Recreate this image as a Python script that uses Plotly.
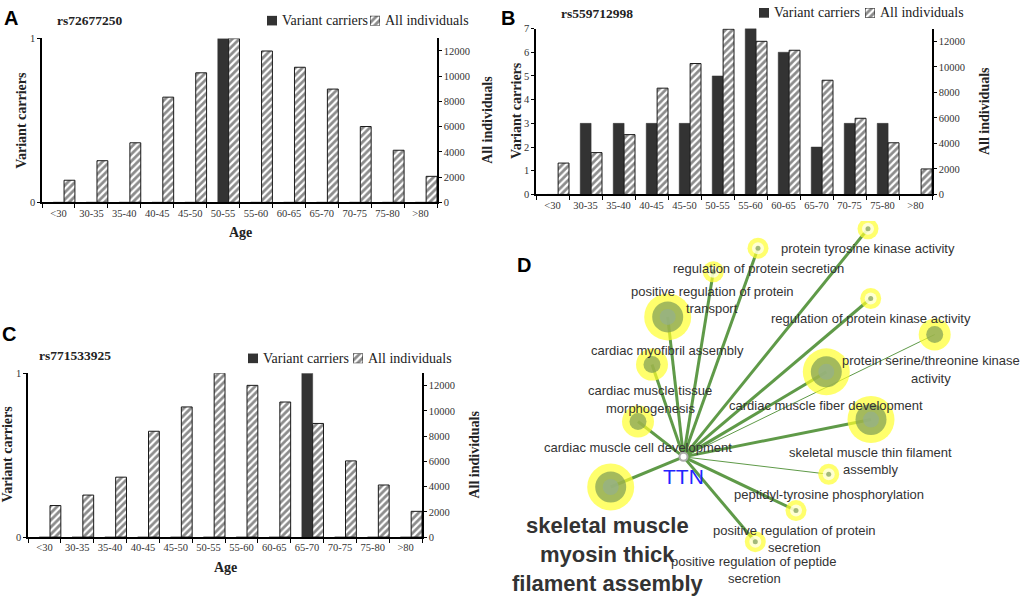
import plotly.graph_objects as go

W, H = 1024, 600
SERIF = "Liberation Serif, Times New Roman, serif"
SANS = "Liberation Sans, Arial, sans-serif"

# ---------------- data ----------------
ages = ["<30", "30-35", "35-40", "40-45", "45-50", "50-55", "55-60",
        "60-65", "65-70", "70-75", "75-80", ">80"]

a_carriers = [0, 0, 0, 0, 0, 1, 0, 0, 0, 0, 0, 0]
a_all = [1750, 3300, 4720, 8340, 10270, 12980, 12000, 10710, 8980, 6010, 4130, 2060]

b_carriers = [0, 3, 3, 3, 3, 5, 7, 6, 2, 3, 3, 0]
b_all = [2460, 3280, 4690, 8330, 10260, 12950, 12000, 11300, 8950, 5970, 4050, 2000]

c_carriers = [0, 0, 0, 0, 0, 0, 0, 0, 1, 0, 0, 0]
c_all = [2500, 3330, 4750, 8390, 10320, 13000, 12030, 10710, 9010, 6040, 4130, 2040]

right_ticks = [0, 2000, 4000, 6000, 8000, 10000, 12000]
right_ticktext = ["0", "2000", "4000", "6000", "8000", "10000", "12000"]
series_names = ["Variant carriers", "All individuals"]

# network (panel D)
hub_name = "TTN"
hub_x, hub_y = 683.5, 460.3
go_terms = [
    "protein tyrosine kinase activity",
    "regulation of protein secretion",
    "positive regulation of protein\ntransport",
    "cardiac myofibril assembly",
    "cardiac muscle tissue\nmorphogenesis",
    "cardiac muscle cell development",
    "skeletal muscle\nmyosin thick\nfilament assembly",
    "regulation of protein kinase activity",
    "protein serine/threonine kinase\nactivity",
    "cardiac muscle fiber development",
    "skeletal muscle thin filament\nassembly",
    "peptidyl-tyrosine phosphorylation",
    "positive regulation of protein\nsecretion",
    "positive regulation of peptide\nsecretion",
]
node_x = [868, 758, 713.3, 667.7, 652, 638, 610.7, 870.7, 934.7, 826.3, 871, 828.7, 796, 755.3]
node_y = [228, 247.7, 271.7, 317.7, 366.3, 424.3, 491, 299, 335.7, 373.7, 422.3, 478, 515, 546.7]
node_class = ["S", "S", "S", "L", "M", "M", "L", "S", "M", "L", "L", "S", "S", "S"]
edge_w = [3, 3, 3, 3, 3, 3, 3, 3, 1, 3, 3, 1, 3, 3]
label_fs = [13, 13, 13, 13, 13, 13, 22, 13, 13, 13, 13, 13, 13, 13]
label_dx = [0, 0, -1, 0, -2, 0, -3, 0, -4, 0, -1, 0, -2, -1]

# ---------------- helpers ----------------
def PX(p):
    return p / W


def PY(p):
    return 1 - p / H


DARK = "#333333"
dark_marker = dict(color=DARK, line=dict(color=DARK, width=0.5))
hatch_marker = dict(color="white", line=dict(color="#1a1a1a", width=1),
                    pattern=dict(shape="/", fgcolor="#1a1a1a", bgcolor="white",
                                 size=5, solidity=0.55))

fig = go.Figure()

panels = [
    dict(x="x", y="y", y2="y2", l=42, r=437, t=34, b=201, ymax=1,
         car=a_carriers, all=a_all),
    dict(x="x2", y="y3", y2="y4", l=536, r=932, t=24, b=193, ymax=7,
         car=b_carriers, all=b_all),
    dict(x="x3", y="y5", y2="y6", l=28, r=422, t=375, b=542, ymax=1,
         car=c_carriers, all=c_all),
]

for p in panels:
    fig.add_trace(go.Bar(
        x=ages, y=p["car"], xaxis=p["x"], yaxis=p["y"], name=series_names[0],
        offset=-0.16, width=0.33, marker=dark_marker, showlegend=False,
    ))
    fig.add_trace(go.Bar(
        x=ages, y=p["all"], xaxis=p["x"], yaxis=p["y2"], name=series_names[1],
        offset=0.17, width=0.33, marker=hatch_marker, showlegend=False,
    ))

xtickfont = dict(family=SERIF, size=10.5, color="#333333")
ytickfont = dict(family=SERIF, size=10.5, color="#333333")
layout = dict(
    width=W, height=H, margin=dict(l=0, r=0, t=0, b=0),
    paper_bgcolor="white", plot_bgcolor="rgba(0,0,0,0)",
    barmode="overlay", showlegend=False,
)

for p in panels:
    xk = "xaxis" if p["x"] == "x" else "xaxis" + p["x"][1:]
    yk = "yaxis" if p["y"] == "y" else "yaxis" + p["y"][1:]
    y2k = "yaxis" + p["y2"][1:]
    layout[xk] = dict(
        domain=[PX(p["l"]), PX(p["r"])], anchor=p["y"], type="category",
        categoryorder="array", categoryarray=ages, range=[-0.5, 11.5],
        tickson="boundaries", ticks="outside", ticklen=4, tickcolor="black",
        tickwidth=1, tickangle=0, showline=True, linecolor="black", linewidth=1.5,
        showgrid=False, zeroline=False, tickfont=xtickfont, fixedrange=True,
    )
    layout[yk] = dict(
        domain=[PY(p["b"]), PY(p["t"])], anchor=p["x"], range=[0, p["ymax"]],
        dtick=1, ticks="outside", ticklen=3, tickcolor="black",
        showline=True, linecolor="black", linewidth=1.5, showgrid=False,
        zeroline=False, tickfont=ytickfont, fixedrange=True,
    )
    layout[y2k] = dict(
        overlaying=p["y"], side="right", anchor=p["x"], range=[0, 13000],
        tickvals=right_ticks, ticktext=right_ticktext, ticks="outside",
        ticklen=3, tickcolor="black",
        showline=True, linecolor="black", linewidth=1.5, showgrid=False,
        zeroline=False, tickfont=ytickfont, fixedrange=True,
    )

# ---- legend keys: one tiny bar per key, each on its own small axis pair ----
legend_keys = [(267, 370, 16), (759, 865, 8), (248, 353, 360)]
KEY = 10
annotations = []
ax_i = 5
for (dl, hl, yc) in legend_keys:
    for left, marker, name in [(dl, dark_marker, series_names[0]),
                               (hl, hatch_marker, series_names[1])]:
        xa, ya = "x%d" % ax_i, "y%d" % (ax_i + 3)
        layout["xaxis%d" % ax_i] = dict(domain=[PX(left), PX(left + KEY)],
                                        range=[-0.5, 0.5], visible=False,
                                        fixedrange=True, anchor=ya)
        layout["yaxis%d" % (ax_i + 3)] = dict(domain=[PY(yc + KEY / 2), PY(yc - KEY / 2)],
                                              range=[0, 1], visible=False,
                                              fixedrange=True, anchor=xa)
        fig.add_trace(go.Bar(x=[0], y=[1], width=1, xaxis=xa, yaxis=ya,
                             marker=marker, name=name, showlegend=False,
                             hoverinfo="skip"))
        annotations.append(dict(
            x=PX(left + KEY + 3), y=PY(yc), xref="paper", yref="paper",
            text=name, showarrow=False, xanchor="left", yanchor="middle",
            font=dict(family=SERIF, size=14, color="#222222"),
        ))
        ax_i += 1

layout["xaxis4"] = dict(domain=[PX(500), 1], range=[500, 1024], visible=False,
                        fixedrange=True, anchor="y7")
layout["yaxis7"] = dict(domain=[0, PY(220)], range=[600, 220], visible=False,
                        fixedrange=True, anchor="x4")

fig.update_layout(**layout)

# ---------------- panel D network ----------------
EDGE = "#5f9a48"
for nx, ny, w in zip(node_x, node_y, edge_w):
    fig.add_trace(go.Scatter(
        x=[hub_x, nx], y=[hub_y, ny], mode="lines", xaxis="x4", yaxis="y7",
        line=dict(color=EDGE, width=w), hoverinfo="skip", showlegend=False,
    ))

size_map = {
    "L": [(47, "#ffff2e"), (31, "#7d9c55"), (16, "#94b08c")],
    "M": [(32, "#ffff2e"), (17, "#7d9c55")],
    "S": [(21, "#ffff2e"), (12, "#ffffff"), (5, "#7d9c55")],
}
for layer in range(3):
    xs, ys, ss, cs = [], [], [], []
    for nx, ny, cl in zip(node_x, node_y, node_class):
        if layer < len(size_map[cl]):
            s, c = size_map[cl][layer]
            xs.append(nx); ys.append(ny); ss.append(s); cs.append(c)
    fig.add_trace(go.Scatter(
        x=xs, y=ys, mode="markers", xaxis="x4", yaxis="y7",
        marker=dict(size=ss, color=cs, line=dict(width=0)),
        hoverinfo="skip", showlegend=False,
    ))

fig.add_trace(go.Scatter(
    x=[hub_x], y=[hub_y], mode="markers", xaxis="x4", yaxis="y7",
    marker=dict(size=8, color="white", line=dict(color="#aaaaaa", width=2)),
    hoverinfo="skip", showlegend=False,
))

radius = {"L": 23, "M": 16, "S": 9.5}
for name, nx, ny, cl, fs, dx in zip(go_terms, node_x, node_y, node_class, label_fs, label_dx):
    lines = name.split("\n")
    y0 = ny + radius[cl] + 3 + 0.6 * fs
    for k, line in enumerate(lines):
        txt = "<b>%s</b>" % line if fs > 14 else line
        annotations.append(dict(
            x=nx + dx, y=y0 + k * 1.35 * fs, xref="x4", yref="y7", text=txt,
            showarrow=False, xanchor="center", yanchor="middle",
            font=dict(family=SANS, size=fs, color="#333333"),
        ))

annotations.append(dict(
    x=hub_x, y=hub_y + 20, xref="x4", yref="y7", text=hub_name, showarrow=False,
    xanchor="center", yanchor="middle",
    font=dict(family=SANS, size=21, color="#2424ff"),
))

for letter, lx, ly in [("A", 11, 13), ("B", 508, 13), ("C", 9, 335), ("D", 524, 265)]:
    annotations.append(dict(
        x=PX(lx), y=PY(ly), xref="paper", yref="paper", text="<b>%s</b>" % letter,
        showarrow=False, xanchor="center", yanchor="middle",
        font=dict(family=SANS, size=20, color="black"),
    ))

for t, lx, ly in [("rs72677250", 55, 16), ("rs559712998", 559, 9), ("rs771533925", 37, 357)]:
    annotations.append(dict(
        x=PX(lx), y=PY(ly), xref="paper", yref="paper", text="<b>%s</b>" % t,
        showarrow=False, xanchor="left", yanchor="middle",
        font=dict(family=SERIF, size=13.5, color="#222222"),
    ))

for t, lx, ly in [("Variant carriers", 22, 118), ("All individuals", 488, 117),
                  ("Variant carriers", 516, 108), ("All individuals", 984, 108),
                  ("Variant carriers", 8, 458), ("All individuals", 475, 458)]:
    annotations.append(dict(
        x=PX(lx), y=PY(ly), xref="paper", yref="paper", text="<b>%s</b>" % t,
        showarrow=False, xanchor="center", yanchor="middle", textangle=-90,
        font=dict(family=SERIF, size=14, color="#222222"),
    ))
for lx, ly in [(240, 232), (225, 573)]:
    annotations.append(dict(
        x=PX(lx), y=PY(ly), xref="paper", yref="paper", text="<b>Age</b>",
        showarrow=False, xanchor="center", yanchor="middle",
        font=dict(family=SERIF, size=14, color="#222222"),
    ))

fig.update_layout(annotations=annotations)
fig.write_html("out.html",
               config={"displayModeBar": False},
               post_script="document.body.style.margin='0px';"
                           "document.body.style.overflow='hidden';")
